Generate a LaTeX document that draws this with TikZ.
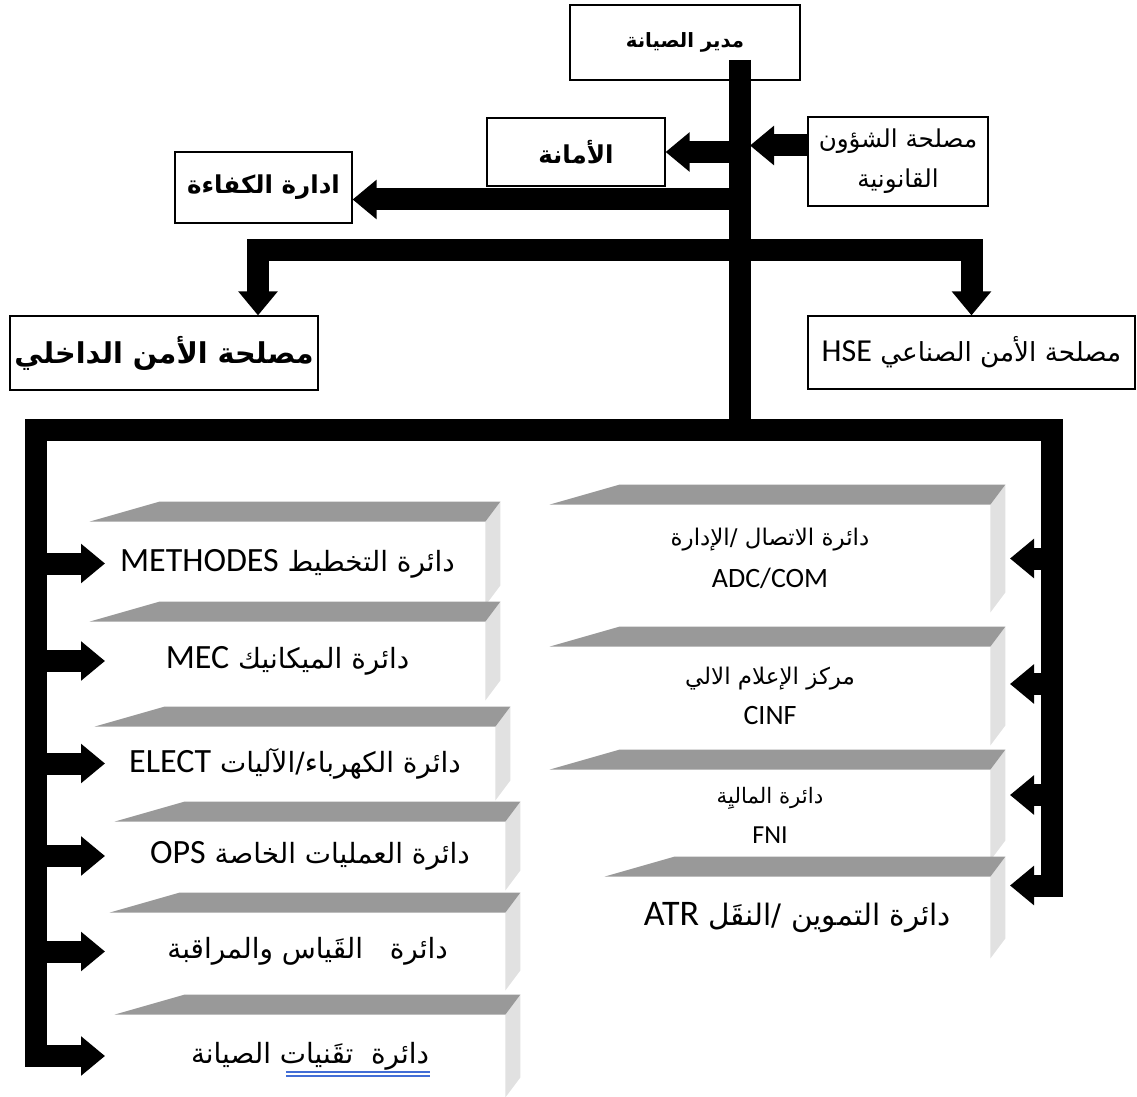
\documentclass[tikz,border=0pt]{standalone}
\usepackage{fontspec}
\usepackage{tikz}
\usetikzlibrary{calc,arrows.meta,positioning}
\setmainfont{Carlito}
\newfontfamily\arabicfont[Script=Arabic,Scale=0.82]{DejaVu Sans}
\newfontfamily\latinfont{Carlito}
\TeXXeTstate=1
\definecolor{shelfTop}{RGB}{153,153,153}
\definecolor{shelfSide}{RGB}{225,225,225}
\definecolor{markBlue}{RGB}{66,110,214}
% arabic text, and arabic text followed by a latin code
\newcommand{\ar}[1]{{\arabicfont\beginR #1\endR}}
\newcommand{\arlat}[2]{{\arabicfont\beginR #1 \beginL{\latinfont #2}\endL\endR}}
% grey top and side of a shelf-like box
\newcommand{\shelfdeco}[1]{%
  \fill[shelfSide] (#1.north east) -- ++(15,-20) -- ($(#1.south east)+(15,-20)$) -- (#1.south east) -- cycle;
  \fill[shelfTop] (#1.north west) -- ++(70,-20) -- ($(#1.north east)+(15,-20)$) -- (#1.north east) -- cycle;}

\begin{document}
\begin{tikzpicture}[x=0.5pt, y=-0.5pt,
    orgbox/.style={draw, line width=0.6pt, inner sep=0pt, align=center},
    shelfbox/.style={inner sep=0pt, align=center},
    bus/.style={line width=11pt},
    busarrow/.style={line width=11pt, -{Triangle[width=19pt,length=12pt]}}]
    \useasboundingbox (0,0) rectangle (1137,1097);

    % top boxes
    \node[orgbox, minimum width=115pt, minimum height=37.5pt, font=\fontsize{12}{14}\selectfont\bfseries]
        (dir) at (685,42.5) {\ar{مدير الصيانة}};
    \node[orgbox, minimum width=89pt, minimum height=34pt, font=\fontsize{15}{17}\selectfont\bfseries]
        (amana) at (576,152) {\ar{الأمانة}};
    \node[orgbox, minimum width=90pt, minimum height=44.5pt, font=\fontsize{15}{20}\selectfont]
        (qanun) at (898,161.5) {\ar{مصلحة الشؤون}\\\ar{القانونية}};
    \node[orgbox, minimum width=88.5pt, minimum height=35.5pt, font=\fontsize{15}{17}\selectfont\bfseries]
        (kafaa) at (263.5,187.5) {\ar{ادارة الكفاءة}};
    \node[orgbox, minimum width=154pt, minimum height=37pt, font=\fontsize{17.5}{20}\selectfont\bfseries]
        (amnd) at (164,353) {\ar{مصلحة الأمن الداخلي}};
    \node[orgbox, minimum width=163.5pt, minimum height=36.5pt, font=\fontsize{16}{18}\selectfont]
        (hse) at (971.5,352.5) {\arlat{مصلحة الأمن الصناعي}{HSE}};

    % left column
    \node[shelfbox, minimum width=197.5pt, minimum height=41.5pt, font=\fontsize{17}{19}\selectfont]
        (met) at (287.5,563.5) {\arlat{دائرة التخطيط}{METHODES}};
    \shelfdeco{met}
    \node[shelfbox, minimum width=197.5pt, minimum height=39pt, font=\fontsize{17}{19}\selectfont]
        (mec) at (287.5,661) {\arlat{دائرة الميكانيك}{MEC}};
    \shelfdeco{mec}
    \node[shelfbox, minimum width=200pt, minimum height=36.5pt, font=\fontsize{17}{19}\selectfont]
        (elect) at (295,763.5) {\arlat{دائرة الكهرباء/الآليات}{ELECT}};
    \shelfdeco{elect}
    \node[shelfbox, minimum width=195pt, minimum height=34pt, font=\fontsize{17}{19}\selectfont]
        (ops) at (310,856) {\arlat{دائرة العمليات الخاصة}{OPS}};
    \shelfdeco{ops}
    \node[shelfbox, minimum width=197.5pt, minimum height=38.5pt, font=\fontsize{17}{19}\selectfont]
        (mes) at (307.5,951.5) {\ar{دائرة\ \ \ القَياس والمراقبة}};
    \shelfdeco{mes}
    \node[shelfbox, minimum width=195pt, minimum height=41pt, font=\fontsize{17}{19}\selectfont]
        (tech) at (310,1056) {\ar{دائرة\ \ تقَنيات الصيانة}};
    \shelfdeco{tech}
    \draw[markBlue, line width=0.6pt] (286,1072) -- (430,1072);
    \draw[markBlue, line width=0.6pt] (286,1076) -- (430,1076);

    % right column
    \node[shelfbox, minimum width=220pt, minimum height=53.5pt, font=\fontsize{14}{21}\selectfont]
        (adc) at (770,558.5) {\ar{دائرة الاتصال /الإدارة}\\{\latinfont ADC/COM}};
    \shelfdeco{adc}
    \node[shelfbox, minimum width=220pt, minimum height=49pt, font=\fontsize{14}{20}\selectfont]
        (cinf) at (770,696) {\ar{مركز الإعلام الالي}\\{\latinfont CINF}};
    \shelfdeco{cinf}
    \node[shelfbox, minimum width=220pt, minimum height=45pt, font=\fontsize{13}{20}\selectfont]
        (fni) at (770,815) {\ar{دائرة الماليِة}\\{\latinfont FNI}};
    \shelfdeco{fni}
    \node[shelfbox, minimum width=192.5pt, minimum height=40.5pt, font=\fontsize{18}{20}\selectfont]
        (atr) at (797.5,917.5) {\arlat{دائرة التموين /النقَل}{ATR}};
    \shelfdeco{atr}

    % bus points
    \coordinate (spTop) at (740,60);
    \coordinate (spBot) at (740,430);
    \coordinate (brA) at (740,250);
    \coordinate (leftBus) at (36,430);
    \coordinate (rightBus) at (1052,430);
    \coordinate (tipL) at (105,0);
    \coordinate (tipR) at (1010,0);
    \coordinate (qIn) at ([yshift=8pt]qanun.west);
    \coordinate (kIn) at ([yshift=-6pt]kafaa.east);
    \coordinate (cIn) at ([yshift=6pt]cinf.east);
    \coordinate (fIn) at ([yshift=10pt]fni.east);
    \coordinate (aIn) at ([yshift=16pt]atr.east);

    % main spine and upper branches
    \draw[bus] (spTop) -- (spBot);
    \draw[busarrow] (spTop |- amana.east) -- (amana.east);
    \draw[busarrow, shorten >=5pt] (qIn) -- (qIn -| spTop);
    \draw[busarrow] (kIn -| spTop) -- (kIn);
    \draw[busarrow] (brA) -| ([xshift=47pt]amnd.north);
    \draw[busarrow] (brA) -| (hse.north);

    % lower bus, left side
    \draw[busarrow] (spBot) -| (leftBus |- tech.west) -- (tech.west -| tipL);
    \draw[busarrow] (leftBus |- met.west) -- (met.west -| tipL);
    \draw[busarrow] (leftBus |- mec.west) -- (mec.west -| tipL);
    \draw[busarrow] (leftBus |- elect.west) -- (elect.west -| tipL);
    \draw[busarrow] (leftBus |- ops.west) -- (ops.west -| tipL);
    \draw[busarrow] (leftBus |- mes.west) -- (mes.west -| tipL);

    % lower bus, right side
    \draw[busarrow] (spBot) -| (rightBus |- aIn) -- (aIn -| tipR);
    \draw[busarrow] (rightBus |- adc.east) -- (adc.east -| tipR);
    \draw[busarrow] (rightBus |- cIn) -- (cIn -| tipR);
    \draw[busarrow] (rightBus |- fIn) -- (fIn -| tipR);
\end{tikzpicture}
\end{document}
